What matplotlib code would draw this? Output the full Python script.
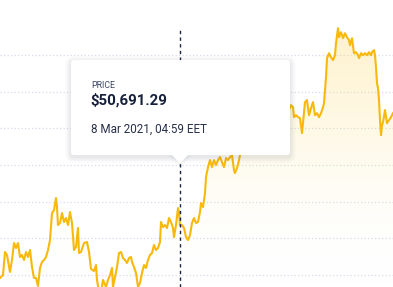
import numpy as np
import matplotlib
matplotlib.use("Agg")
import matplotlib.pyplot as plt
from matplotlib.patches import FancyBboxPatch, Polygon
from matplotlib.colors import LinearSegmentedColormap

# ---- data (time index along the chart, price in USD) ----
t = [0, 3, 5, 7, 10, 12, 14, 16, 18, 20, 22, 24, 26, 28, 30, 32, 34, 36, 38, 40,
     42, 44, 46, 48, 50, 52, 54, 56, 57, 58, 60, 62, 64, 66, 68, 70, 72, 74, 76, 78,
     79, 81, 84, 87, 89, 91, 94, 96, 97, 99, 101, 103, 106, 108, 110, 112, 113, 115, 117, 119,
     121, 123, 125, 127, 129, 131, 132, 134, 136, 138, 140, 142, 144, 146, 148, 150, 152, 154, 156, 158,
     160, 161, 163, 165, 167, 169, 171, 173, 174, 176, 178, 179, 180, 182, 184, 186, 188, 190, 192, 194,
     196, 198, 200, 201, 203, 205, 206, 208, 210, 212, 214, 216, 218, 220, 222, 224, 226, 228, 230, 232,
     234, 235, 237, 239, 241, 250, 260, 270, 280, 290, 291, 293, 294, 296, 298, 300, 302, 303, 305, 307,
     309, 311, 313, 315, 317, 319, 321, 323, 324, 326, 327, 329, 331, 333, 335, 336, 338, 339, 341, 343,
     345, 347, 349, 350, 352, 354, 356, 358, 359, 361, 363, 365, 367, 369, 371, 372, 374, 375, 376, 377,
     378, 379, 380, 381, 382, 383, 385, 387, 389, 391, 393]
price = [47836, 48000, 49254, 49090, 48164, 48818, 49744, 49472, 49744, 48981, 49090, 48818, 49254, 48981, 49363, 48436, 47836, 47836, 47400, 48382,
         48709, 48818, 48981, 49363, 49908, 51379, 51543, 52197, 51706, 50725, 50834, 51379, 50889, 51107, 50725, 51434, 50834, 49363, 49526, 50562,
         49199, 49254, 49744, 49799, 49254, 48327, 48218, 48545, 47728, 47074, 47020, 47728, 47346, 47728, 48000, 48382, 47346, 47891, 48436, 49199,
         49254, 48927, 48818, 48654, 48927, 48981, 48709, 48436, 48109, 47346, 47564, 48109, 48545, 48382, 48818, 49090, 49199, 49635, 49363, 49472,
         49799, 50889, 50616, 50725, 50562, 51107, 50889, 50562, 50071, 50725, 51652, 51434, 50691, 50725, 50562, 50071, 49908, 50180, 50834, 51107,
         50834, 50889, 51434, 51924, 51706, 52469, 53341, 53886, 54268, 53886, 54268, 53995, 54268, 54431, 54159, 53886, 54377, 54268, 54431, 54540,
         53723, 53559, 53832, 54268, 54813, 55630, 56448, 56993, 57265, 57102, 57265, 57156, 56611, 56720, 56611, 56557, 55739, 56284, 57429, 57538,
         56720, 57102, 57429, 56720, 56829, 56611, 56829, 57156, 57374, 58791, 59827, 60099, 59881, 59718, 59990, 60644, 61462, 60971, 61244, 60917,
         61189, 60971, 60808, 60535, 60917, 60099, 60154, 59990, 59827, 60099, 59990, 60099, 59990, 60154, 59990, 60154, 60263, 59990, 59336, 58464,
         58192, 57538, 56448, 55630, 56175, 56339, 56993, 56284, 56448, 56611, 56829]
grid_values = [48000, 50000, 52000, 54000, 56000, 58000, 60000]
hover_t = 180
tip_label = "PRICE"
tip_value = "$50,691.29"
tip_date = "8 Mar 2021, 04:59 EET"

LINE = "#F8B90C"
W, H = 393, 287

fig = plt.figure(figsize=(W / 100, H / 100), dpi=100)
fig.patch.set_facecolor("white")
ax = fig.add_axes([0, 0, 1, 1])
ax.set_xlim(0, 393)
ax.set_ylim(47345, 63000)
ax.axis("off")

for g in grid_values:
    ax.axhline(g, color="#d6dcea", lw=0.9, ls=(0, (1.0, 1.8)), zorder=1)

# gradient fill under line
ymin, ymax = ax.get_ylim()
cmap = LinearSegmentedColormap.from_list(
    "g", [(1, 1, 1, 0), (0.99, 0.86, 0.45, 0.13), (0.99, 0.84, 0.38, 0.32)])
grad = np.linspace(0, 1, 256).reshape(-1, 1)
img = ax.imshow(grad, extent=[0, 393, ymin, 61500], origin="lower", cmap=cmap,
                aspect="auto", zorder=2, interpolation="bilinear")
poly = ax.fill_between(t, price, ymin - 1000, color="none", lw=0)
path = poly.get_paths()[0]
img.set_clip_path(path, transform=ax.transData)

ax.plot(t, price, color=LINE, lw=1.5, zorder=3, solid_joinstyle="round")
ax.set_ylim(ymin, ymax)

ax.axvline(hover_t, ymin=0, ymax=(287 - 27) / 287, color="#1b2643", lw=1.0,
           ls=(0, (2.4, 2.4)), zorder=4)

# overlay in pixel coords for tooltip
ov = fig.add_axes([0, 0, 1, 1])
ov.set_xlim(0, W)
ov.set_ylim(H, 0)
ov.axis("off")
ov.patch.set_alpha(0)

bx0, by0, bx1, by1 = 71, 60, 290, 155
for i, a in enumerate([0.015, 0.016, 0.018, 0.02, 0.022, 0.026]):
    d = 6 - i
    ov.add_patch(FancyBboxPatch((bx0 - d, by0 - d + 2), bx1 - bx0 + 2 * d, by1 - by0 + 2 * d,
                                boxstyle="round,pad=0,rounding_size=%g" % (3 + d),
                                fc=(0.3, 0.35, 0.45, a), ec="none", zorder=5))
    ov.add_patch(Polygon([(hover_t - 9 - d, by1 - 1), (hover_t + 9 + d, by1 - 1),
                          (hover_t, 164 + d * 0.6)], closed=True,
                         fc=(0.3, 0.35, 0.45, a * 0.6), ec="none", zorder=5))
ov.add_patch(FancyBboxPatch((bx0, by0), bx1 - bx0, by1 - by0,
                            boxstyle="round,pad=0,rounding_size=3",
                            fc="white", ec="none", zorder=6))
ov.add_patch(Polygon([(hover_t - 8.5, by1 - 0.5), (hover_t + 8.5, by1 - 0.5), (hover_t, 163.5)],
                     closed=True, fc="white", ec="none", zorder=6))

ov.text(91, 85.5, tip_label, fontsize=6.3, color="#3b4560", family="Roboto",
        va="center", ha="left", zorder=7)
ov.text(90.5, 100.5, tip_value, fontsize=10.8, color="#17203a", family="Roboto",
        weight="bold", va="center", ha="left", zorder=7)
ov.text(91, 129, tip_date, fontsize=8.4, color="#27304a", family="Roboto",
        va="center", ha="left", zorder=7)

fig.savefig("out.png", dpi=100, facecolor="white")
